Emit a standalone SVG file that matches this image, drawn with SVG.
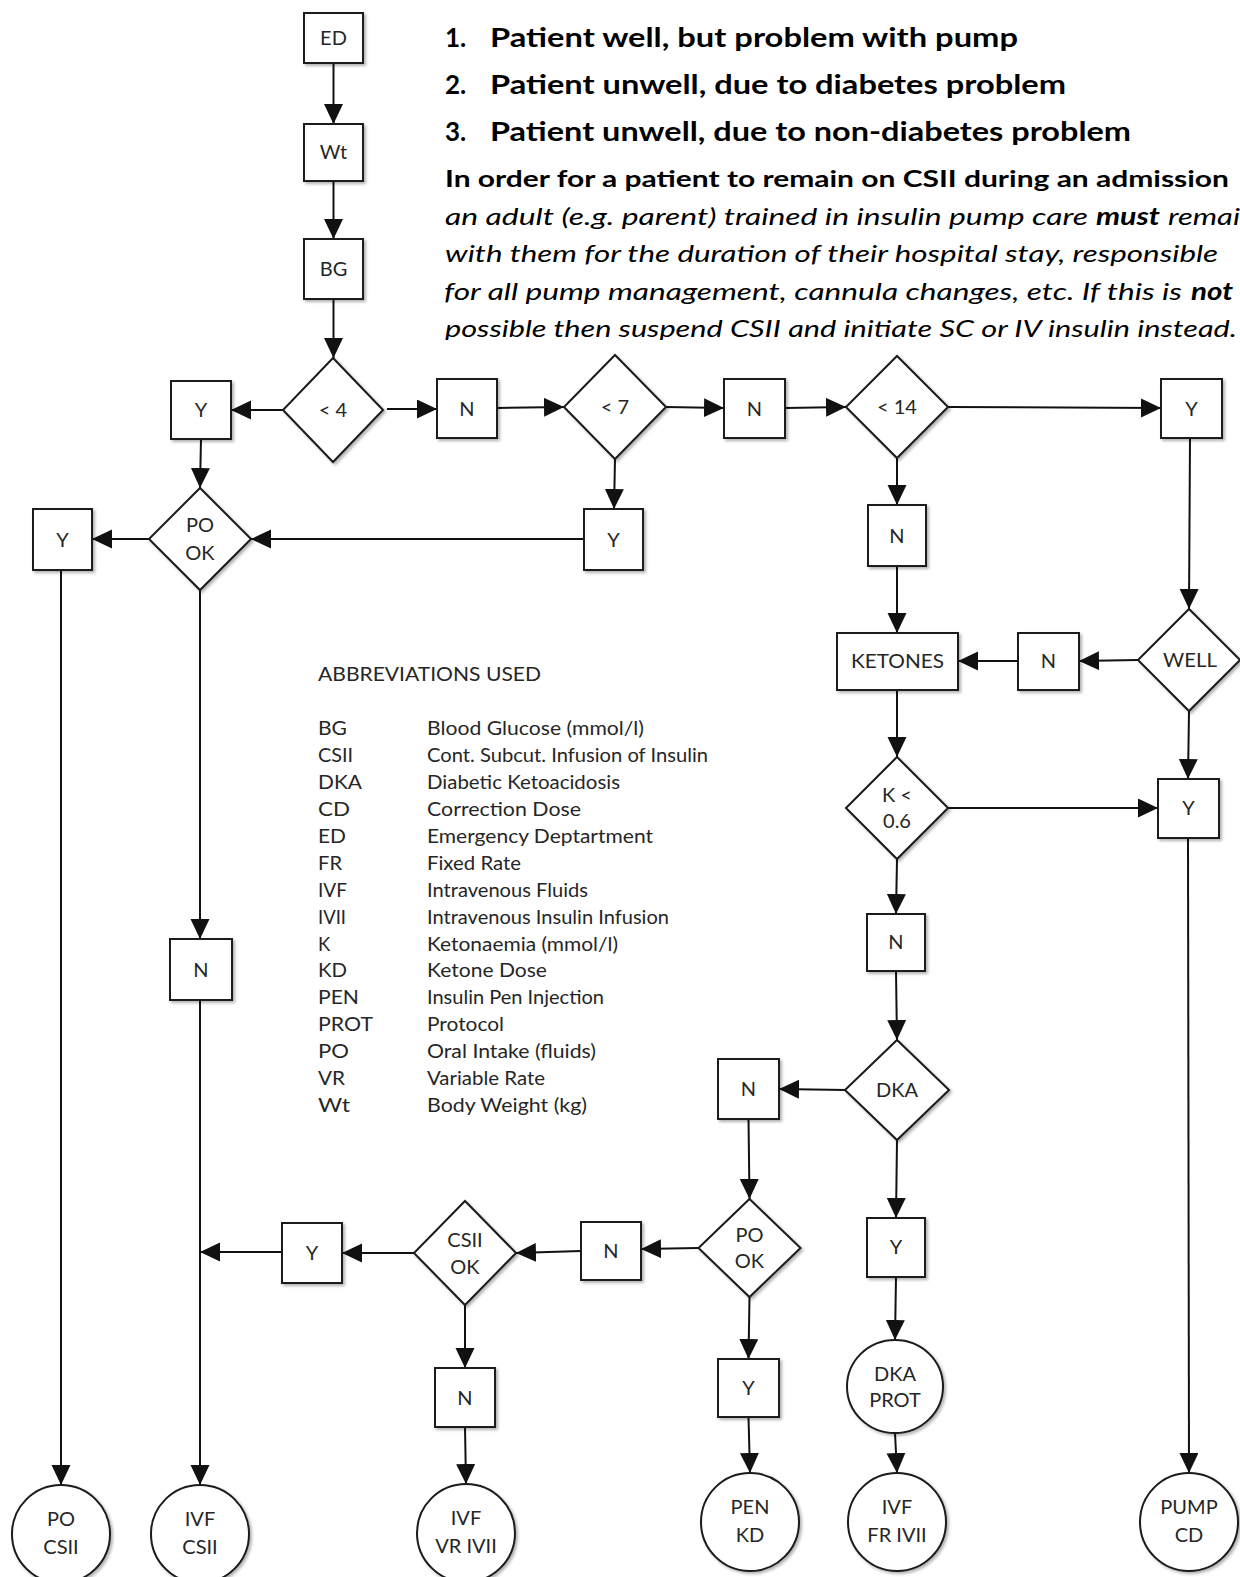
<svg xmlns="http://www.w3.org/2000/svg" width="1240" height="1577" viewBox="0 0 1240 1577">
<style>
.box{fill:#fff;stroke:#1a1a1a;stroke-width:2;filter:url(#sh)}
.lbl{font-family:Lato,"Open Sans",sans-serif;font-size:20px;fill:#262626;text-anchor:middle}
.ab{font-family:Lato,"Open Sans",sans-serif;font-size:18.5px;fill:#262626}
.hd{font-family:Lato,"Liberation Sans",sans-serif;fill:#000}
.b1{font-size:26px;font-weight:bold}
.b2{font-size:23.5px;font-weight:bold}
.it{font-size:24px;font-style:italic}
.bi{font-size:24px;font-style:italic;font-weight:bold}
.c line,.c path{stroke:#111;stroke-width:2;fill:none;marker-end:url(#ah)}
</style>
<defs>
<filter id="sh" x="-20%" y="-20%" width="140%" height="140%"><feDropShadow dx="2" dy="2" stdDeviation="1.5" flood-color="#000" flood-opacity="0.3"/></filter>
<marker id="ah" markerUnits="userSpaceOnUse" markerWidth="20" markerHeight="20" refX="20" refY="9.5" orient="auto"><path d="M0,0 L20,9.5 L0,19 z" fill="#111"/></marker>
<clipPath id="topclip"><rect x="0" y="0" width="1240" height="340"/></clipPath>
</defs>
<rect width="1240" height="1577" fill="#fff"/>

<g id="header" clip-path="url(#topclip)">
<text class="hd b1" x="445" y="47">1.</text>
<text class="hd b1" x="490" y="47" textLength="528" lengthAdjust="spacingAndGlyphs">Patient well, but problem with pump</text>
<text class="hd b1" x="445" y="94">2.</text>
<text class="hd b1" x="490" y="94" textLength="576" lengthAdjust="spacingAndGlyphs">Patient unwell, due to diabetes problem</text>
<text class="hd b1" x="445" y="141">3.</text>
<text class="hd b1" x="490" y="141" textLength="641" lengthAdjust="spacingAndGlyphs">Patient unwell, due to non-diabetes problem</text>
<text class="hd b2" x="445" y="187" textLength="784" lengthAdjust="spacingAndGlyphs">In order for a patient to remain on CSII during an admission</text>
<text class="hd it" x="445" y="225" textLength="643" lengthAdjust="spacingAndGlyphs">an adult (e.g. parent) trained in insulin pump care</text>
<text class="hd bi" x="1096" y="225" textLength="64" lengthAdjust="spacingAndGlyphs">must</text>
<text class="hd it" x="1168" y="225" textLength="72" lengthAdjust="spacingAndGlyphs">remai</text>
<text class="hd it" x="445" y="262" textLength="773" lengthAdjust="spacingAndGlyphs">with them for the duration of their hospital stay, responsible</text>
<text class="hd it" x="444" y="300" textLength="738" lengthAdjust="spacingAndGlyphs">for all pump management, cannula changes, etc. If this is</text>
<text class="hd bi" x="1191" y="300" textLength="42" lengthAdjust="spacingAndGlyphs">not</text>
<text class="hd it" x="445" y="337" textLength="792" lengthAdjust="spacingAndGlyphs">possible then suspend CSII and initiate SC or IV insulin instead.</text>
</g>

<g id="connectors" class="c">
<line x1="333.5" y1="63" x2="333.5" y2="124"/>
<line x1="333.5" y1="181" x2="333.5" y2="239"/>
<line x1="333.5" y1="299" x2="333.5" y2="358"/>
<line x1="283" y1="410" x2="231" y2="410"/>
<line x1="387" y1="409" x2="437" y2="409"/>
<line x1="497" y1="408" x2="564" y2="407"/>
<line x1="666" y1="407" x2="724" y2="408"/>
<line x1="785" y1="408" x2="846" y2="407"/>
<line x1="948" y1="407" x2="1161" y2="408"/>
<line x1="201" y1="439" x2="200" y2="488"/>
<line x1="149" y1="539" x2="92" y2="539"/>
<line x1="615" y1="459" x2="614" y2="509"/>
<line x1="584" y1="539" x2="251" y2="539"/>
<line x1="897" y1="458" x2="897" y2="505"/>
<line x1="897" y1="566" x2="897" y2="633"/>
<line x1="1190" y1="438" x2="1189" y2="609"/>
<line x1="1138" y1="660" x2="1079" y2="661"/>
<line x1="1018" y1="661" x2="958" y2="661"/>
<line x1="1189" y1="711" x2="1188" y2="779"/>
<line x1="897" y1="690" x2="897" y2="757"/>
<line x1="948" y1="808" x2="1158" y2="808"/>
<line x1="897" y1="859" x2="896" y2="914"/>
<line x1="896" y1="971" x2="897" y2="1040"/>
<line x1="846" y1="1090" x2="779" y2="1089"/>
<line x1="748.5" y1="1119" x2="749.5" y2="1199"/>
<line x1="897" y1="1140" x2="896" y2="1218"/>
<line x1="896" y1="1277" x2="895" y2="1340"/>
<line x1="895" y1="1433" x2="897" y2="1473"/>
<line x1="698.5" y1="1248" x2="641" y2="1249"/>
<line x1="581" y1="1251" x2="516" y2="1253"/>
<line x1="414" y1="1253" x2="342" y2="1253"/>
<line x1="282" y1="1252" x2="200" y2="1252"/>
<line x1="465" y1="1305" x2="465" y2="1368"/>
<line x1="465" y1="1427" x2="466" y2="1484"/>
<line x1="749.5" y1="1297" x2="748.5" y2="1359"/>
<line x1="748.5" y1="1417" x2="750" y2="1473"/>
<line x1="61" y1="570" x2="61" y2="1485"/>
<line x1="200" y1="590" x2="200" y2="939"/>
<line x1="200" y1="1000" x2="200" y2="1485"/>
<line x1="1188" y1="838" x2="1189" y2="1473"/>
</g>

<g id="n-ed"><rect class="box" x="304" y="13" width="59" height="50"/><text class="lbl" x="333.5" y="45">ED</text></g>
<g id="n-wt"><rect class="box" x="304" y="124" width="59" height="57"/><text class="lbl" x="333.5" y="159">Wt</text></g>
<g id="n-bg"><rect class="box" x="304" y="239" width="59" height="60"/><text class="lbl" x="333.5" y="276">BG</text></g>

<g id="d-lt4"><polygon class="box" points="333,358 383,410 333,462 283,410"/><text class="lbl" x="333" y="417">&lt; 4</text></g>
<g id="n-y1"><rect class="box" x="171" y="381" width="60" height="58"/><text class="lbl" x="201" y="417">Y</text></g>
<g id="n-n1"><rect class="box" x="437" y="379" width="60" height="59"/><text class="lbl" x="467" y="416">N</text></g>
<g id="d-lt7"><polygon class="box" points="615,355 666,407 615,459 564,407"/><text class="lbl" x="615" y="414">&lt; 7</text></g>
<g id="n-n2"><rect class="box" x="724" y="379" width="61" height="59"/><text class="lbl" x="754.5" y="416">N</text></g>
<g id="d-lt14"><polygon class="box" points="897,356 948,407 897,458 846,407"/><text class="lbl" x="897" y="414">&lt; 14</text></g>
<g id="n-y2"><rect class="box" x="1161" y="379" width="61" height="59"/><text class="lbl" x="1191.5" y="416">Y</text></g>

<g id="d-pook1"><polygon class="box" points="200,488 251,539 200,590 149,539"/><text class="lbl" x="200" y="532">PO</text><text class="lbl" x="200" y="560">OK</text></g>
<g id="n-y3"><rect class="box" x="33" y="509" width="59" height="61"/><text class="lbl" x="62.5" y="547">Y</text></g>
<g id="n-y4"><rect class="box" x="584" y="509" width="59" height="61"/><text class="lbl" x="613.5" y="547">Y</text></g>
<g id="n-n3"><rect class="box" x="868" y="505" width="58" height="61"/><text class="lbl" x="897" y="543">N</text></g>

<g id="n-ketones"><rect class="box" x="837" y="633" width="121" height="57"/><text class="lbl" x="897.5" y="668" textLength="93" lengthAdjust="spacingAndGlyphs">KETONES</text></g>
<g id="n-n4"><rect class="box" x="1018" y="633" width="61" height="57"/><text class="lbl" x="1048.5" y="668">N</text></g>
<g id="d-well"><polygon class="box" points="1189,609 1240,660 1189,711 1138,660"/><text class="lbl" x="1190" y="667" textLength="54" lengthAdjust="spacingAndGlyphs">WELL</text></g>
<g id="n-y5"><rect class="box" x="1158" y="779" width="61" height="59"/><text class="lbl" x="1188.5" y="815">Y</text></g>
<g id="d-k"><polygon class="box" points="897,757 948,808 897,859 846,808"/><text class="lbl" x="897" y="802">K &lt;</text><text class="lbl" x="897" y="828">0.6</text></g>

<g id="n-n5"><rect class="box" x="867" y="914" width="58" height="57"/><text class="lbl" x="896" y="949">N</text></g>
<g id="n-n6"><rect class="box" x="170" y="939" width="62" height="61"/><text class="lbl" x="201" y="977">N</text></g>

<g id="d-dka"><polygon class="box" points="897,1040 949,1090 897,1140 845,1090"/><text class="lbl" x="897" y="1097">DKA</text></g>
<g id="n-n7"><rect class="box" x="718" y="1059" width="61" height="60"/><text class="lbl" x="748.5" y="1096">N</text></g>
<g id="d-pook2"><polygon class="box" points="749.5,1199 800.5,1248 749.5,1297 698.5,1248"/><text class="lbl" x="749.5" y="1242">PO</text><text class="lbl" x="749.5" y="1268">OK</text></g>
<g id="n-y6"><rect class="box" x="867" y="1218" width="58" height="59"/><text class="lbl" x="896" y="1254">Y</text></g>
<g id="n-n8"><rect class="box" x="581" y="1222" width="60" height="58"/><text class="lbl" x="611" y="1258">N</text></g>
<g id="d-csiiok"><polygon class="box" points="465,1201 516,1253 465,1305 414,1253"/><text class="lbl" x="465" y="1247">CSII</text><text class="lbl" x="465" y="1274">OK</text></g>
<g id="n-y7"><rect class="box" x="282" y="1223" width="60" height="60"/><text class="lbl" x="312" y="1260">Y</text></g>
<g id="n-n9"><rect class="box" x="435" y="1368" width="60" height="59"/><text class="lbl" x="465" y="1405">N</text></g>
<g id="n-y8"><rect class="box" x="718" y="1359" width="61" height="58"/><text class="lbl" x="748.5" y="1395">Y</text></g>

<g id="c-dkaprot"><ellipse class="box" cx="895" cy="1386.5" rx="48" ry="46.5"/><text class="lbl" x="895" y="1381">DKA</text><text class="lbl" x="895" y="1407">PROT</text></g>
<g id="c-pocsii"><circle class="box" cx="61" cy="1534" r="49"/><text class="lbl" x="61" y="1526">PO</text><text class="lbl" x="61" y="1554">CSII</text></g>
<g id="c-ivfcsii"><circle class="box" cx="200" cy="1534" r="49"/><text class="lbl" x="200" y="1526">IVF</text><text class="lbl" x="200" y="1554">CSII</text></g>
<g id="c-ivfvr"><circle class="box" cx="466" cy="1533" r="49"/><text class="lbl" x="466" y="1525">IVF</text><text class="lbl" x="466" y="1553">VR IVII</text></g>
<g id="c-penkd"><circle class="box" cx="750" cy="1522" r="49"/><text class="lbl" x="750" y="1514">PEN</text><text class="lbl" x="750" y="1542">KD</text></g>
<g id="c-ivffr"><circle class="box" cx="897" cy="1522" r="49"/><text class="lbl" x="897" y="1514">IVF</text><text class="lbl" x="897" y="1542">FR IVII</text></g>
<g id="c-pumpcd"><circle class="box" cx="1189" cy="1522" r="49"/><text class="lbl" x="1189" y="1514">PUMP</text><text class="lbl" x="1189" y="1542">CD</text></g>

<g id="abbreviations">
<text class="ab" x="318" y="681" font-size="19.5" textLength="223" lengthAdjust="spacingAndGlyphs">ABBREVIATIONS USED</text>
<text class="ab" x="318" y="735" textLength="29" lengthAdjust="spacingAndGlyphs">BG</text>
<text class="ab" x="427" y="735" textLength="217" lengthAdjust="spacingAndGlyphs">Blood Glucose (mmol/l)</text>
<text class="ab" x="318" y="762" textLength="35" lengthAdjust="spacingAndGlyphs">CSII</text>
<text class="ab" x="427" y="762" textLength="281" lengthAdjust="spacingAndGlyphs">Cont. Subcut. Infusion of Insulin</text>
<text class="ab" x="318" y="789" textLength="44" lengthAdjust="spacingAndGlyphs">DKA</text>
<text class="ab" x="427" y="789" textLength="193" lengthAdjust="spacingAndGlyphs">Diabetic Ketoacidosis</text>
<text class="ab" x="318" y="816" textLength="32" lengthAdjust="spacingAndGlyphs">CD</text>
<text class="ab" x="427" y="816" textLength="154" lengthAdjust="spacingAndGlyphs">Correction Dose</text>
<text class="ab" x="318" y="843" textLength="28" lengthAdjust="spacingAndGlyphs">ED</text>
<text class="ab" x="427" y="843" textLength="226" lengthAdjust="spacingAndGlyphs">Emergency Deptartment</text>
<text class="ab" x="318" y="870" textLength="24" lengthAdjust="spacingAndGlyphs">FR</text>
<text class="ab" x="427" y="870" textLength="94" lengthAdjust="spacingAndGlyphs">Fixed Rate</text>
<text class="ab" x="318" y="897" textLength="29" lengthAdjust="spacingAndGlyphs">IVF</text>
<text class="ab" x="427" y="897" textLength="161" lengthAdjust="spacingAndGlyphs">Intravenous Fluids</text>
<text class="ab" x="318" y="924" textLength="28" lengthAdjust="spacingAndGlyphs">IVII</text>
<text class="ab" x="427" y="924" textLength="242" lengthAdjust="spacingAndGlyphs">Intravenous Insulin Infusion</text>
<text class="ab" x="318" y="951">K</text>
<text class="ab" x="427" y="951" textLength="191" lengthAdjust="spacingAndGlyphs">Ketonaemia (mmol/l)</text>
<text class="ab" x="318" y="977" textLength="29" lengthAdjust="spacingAndGlyphs">KD</text>
<text class="ab" x="427" y="977" textLength="120" lengthAdjust="spacingAndGlyphs">Ketone Dose</text>
<text class="ab" x="318" y="1004" textLength="41" lengthAdjust="spacingAndGlyphs">PEN</text>
<text class="ab" x="427" y="1004" textLength="177" lengthAdjust="spacingAndGlyphs">Insulin Pen Injection</text>
<text class="ab" x="318" y="1031" textLength="55" lengthAdjust="spacingAndGlyphs">PROT</text>
<text class="ab" x="427" y="1031" textLength="77" lengthAdjust="spacingAndGlyphs">Protocol</text>
<text class="ab" x="318" y="1058" textLength="31" lengthAdjust="spacingAndGlyphs">PO</text>
<text class="ab" x="427" y="1058" textLength="169" lengthAdjust="spacingAndGlyphs">Oral Intake (fluids)</text>
<text class="ab" x="318" y="1085" textLength="27" lengthAdjust="spacingAndGlyphs">VR</text>
<text class="ab" x="427" y="1085" textLength="118" lengthAdjust="spacingAndGlyphs">Variable Rate</text>
<text class="ab" x="318" y="1112" textLength="32" lengthAdjust="spacingAndGlyphs">Wt</text>
<text class="ab" x="427" y="1112" textLength="160" lengthAdjust="spacingAndGlyphs">Body Weight (kg)</text>
</g>
</svg>
